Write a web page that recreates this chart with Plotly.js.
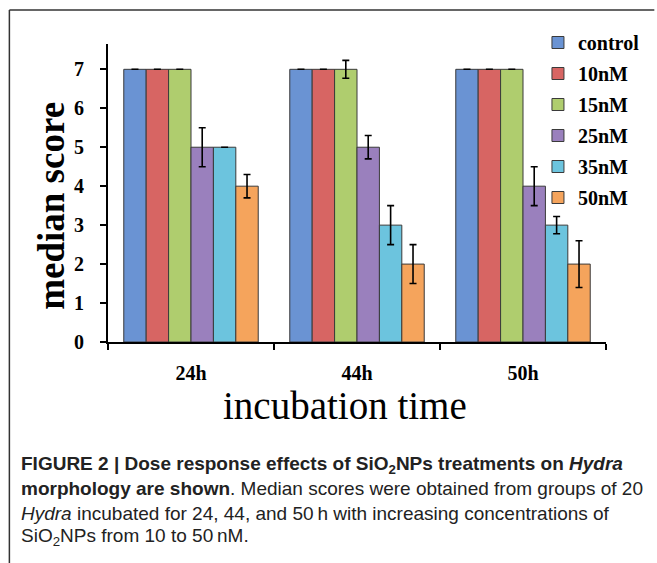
<!DOCTYPE html>
<html>
<head>
<meta charset="utf-8">
<script src="https://cdn.plot.ly/plotly-3.0.1.min.js"></script>
<style>html,body{margin:0;padding:0;background:#fff;}#chart{width:657px;height:563px;}</style>
</head>
<body>
<div id="chart"></div>
<script>
// ---- data ----
const categories = ["24h", "44h", "50h"];
const seriesNames = ["control", "10nM", "15nM", "25nM", "35nM", "50nM"];
const control = [7, 7, 7];
const nM10 = [7, 7, 7];
const nM15 = [7, 7, 7];
const nM25 = [5, 5, 4];
const nM35 = [5, 3, 3];
const nM50 = [4, 2, 2];
const errControl = [0, 0, 0];
const err10 = [0, 0, 0];
const err15 = [0, 0.23, 0];
const err25 = [0.5, 0.3, 0.5];
const err35 = [0, 0.5, 0.22];
const err50 = [0.3, 0.5, 0.6];
const yTicks = [0, 1, 2, 3, 4, 5, 6, 7];

// ---- styling ----
const colors = ["#6a93d3", "#d76563", "#afcd6e", "#9a80bd", "#6cc4de", "#f5a45c"];
const values = [control, nM10, nM15, nM25, nM35, nM50];
const errs = [errControl, err10, err15, err25, err35, err50];

const FW = 657, FH = 563;
const L = 108, R = 44, T = 44, B = 221;
const W = FW - L - R, H = FH - T - B;
const px = x => (x - L) / W;
const py = y => (FH - B - y) / H;

const serif = "Liberation Serif, Times New Roman, serif";
const sans = "Liberation Sans, Arial, sans-serif";

const traces = seriesNames.map((name, i) => ({
  type: "bar",
  name: name,
  x: categories,
  y: values[i],
  legendgroup: "g" + i,
  marker: { color: colors[i], line: { color: "#3a3a3a", width: 1 } },
  error_y: { type: "data", array: errs[i], visible: true, color: "#000", thickness: 1.6, width: 3.5 },
  hoverinfo: "x+y+name"
}));

const captionLines = [
  "<b>FIGURE 2 | Dose response effects of SiO<sub>2</sub>NPs treatments on <i>Hydra</i></b>",
  "<b>morphology are shown</b>. Median scores were obtained from groups of 20",
  "<i>Hydra</i> incubated for 24, 44, and 50\u2009h with increasing concentrations of",
  "SiO<sub>2</sub>NPs from 10 to 50\u2009nM."
];
const captionY = [465, 489, 513, 537];

const annotations = captionLines.map((t, i) => ({
  text: t, xref: "paper", yref: "paper",
  x: px(18), y: py(captionY[i]), xanchor: "left", yanchor: "middle",
  showarrow: false, align: "left",
  font: { family: sans, size: 19, color: "#222" }
}));

annotations.push({
  text: "median score", xref: "paper", yref: "paper",
  x: px(50), y: py(206), xanchor: "center", yanchor: "middle",
  textangle: -90, showarrow: false,
  font: { family: serif, size: 37, color: "#000", weight: "bold" }
});
annotations.push({
  text: "incubation time", xref: "paper", yref: "paper",
  x: px(348), y: py(405), xanchor: "center", yanchor: "middle",
  showarrow: false,
  font: { family: serif, size: 39, color: "#000" }
});

const shapes = [
  { type: "line", xref: "paper", yref: "paper", x0: px(8), x1: px(FW + 5), y0: py(10), y1: py(10), line: { color: "#333", width: 1.5 } },
  { type: "line", xref: "paper", yref: "paper", x0: px(8), x1: px(8), y0: py(10), y1: py(FH + 5), line: { color: "#333", width: 1.5 } }
];

const layout = {
  width: FW, height: FH,
  margin: { l: L, r: R, t: T, b: B, pad: 0 },
  paper_bgcolor: "#fff", plot_bgcolor: "#fff",
  barmode: "group", bargap: 0.19, bargroupgap: 0,
  showlegend: true,
  legend: {
    x: px(544), y: py(23), xanchor: "left", yanchor: "top",
    bgcolor: "rgba(0,0,0,0)", borderwidth: 0,
    font: { family: serif, size: 20, color: "#000", weight: "bold" },
    tracegroupgap: 2, itemwidth: 30
  },
  xaxis: {
    type: "category",
    showline: true, linecolor: "#000", linewidth: 2,
    ticks: "outside", tickson: "boundaries", ticklen: 6, tickwidth: 2, tickcolor: "#000",
    tickfont: { family: serif, size: 20, color: "#000", weight: "bold" },
    ticklabelstandoff: 12,
    showgrid: false, zeroline: false
  },
  yaxis: {
    range: [0, 7.65],
    tickvals: yTicks,
    showline: true, linecolor: "#000", linewidth: 2,
    ticks: "outside", ticklen: 6, tickwidth: 2, tickcolor: "#000",
    tickfont: { family: serif, size: 20, color: "#000", weight: "bold" },
    ticklabelstandoff: 12,
    showgrid: false, zeroline: false
  },
  annotations: annotations,
  shapes: shapes
};

Plotly.newPlot("chart", traces, layout, { staticPlot: true, displayModeBar: false });
</script>
</body>
</html>
